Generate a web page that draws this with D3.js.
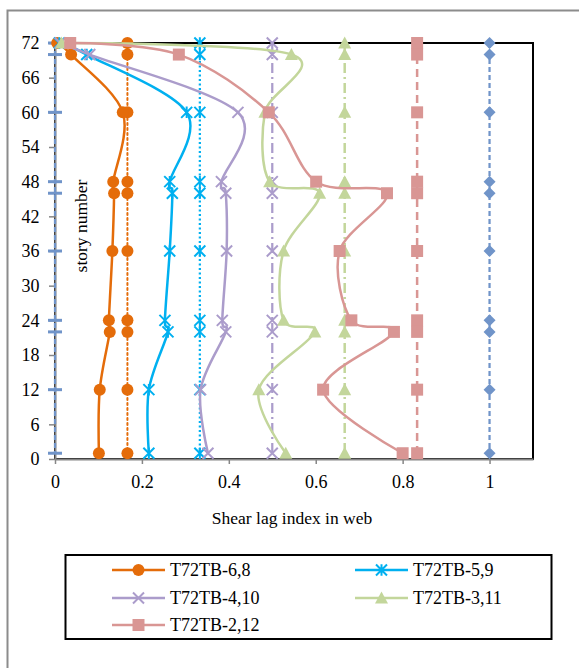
<!DOCTYPE html>
<html>
<head>
<meta charset="utf-8">
<script src="https://cdn.jsdelivr.net/npm/d3@7"></script>
<style>
  html, body { margin: 0; padding: 0; background: #fff; }
  svg { display: block; }
  text { font-family: "Liberation Serif", "Times New Roman", serif; fill: #000; }
</style>
</head>
<body>
<div id="chart"></div>
<script>
// Story levels at which the shear lag index was evaluated
const stories = [72, 70, 60, 48, 46, 36, 24, 22, 12, 1];

// Shear lag index in the web, one array per tube case (same order as stories)
const seriesNames = ["T72TB-6,8", "T72TB-5,9", "T72TB-4,10", "T72TB-3,11", "T72TB-2,12"];
const web68  = [0.005, 0.037, 0.156, 0.134, 0.136, 0.132, 0.124, 0.126, 0.103, 0.101];
const web59  = [0.010, 0.073, 0.303, 0.264, 0.270, 0.264, 0.253, 0.260, 0.216, 0.216];
const web410 = [0.012, 0.080, 0.421, 0.383, 0.393, 0.395, 0.385, 0.393, 0.335, 0.352];
const web311 = [0.015, 0.544, 0.483, 0.494, 0.609, 0.526, 0.526, 0.598, 0.469, 0.531];
const web212 = [0.035, 0.285, 0.492, 0.601, 0.764, 0.655, 0.682, 0.780, 0.617, 0.800];

// Constant reference levels (k/6) drawn as vertical lines over all stories
const referenceLevels = [0, 1/6, 1/3, 1/2, 2/3, 5/6, 1];

// Axis ticks
const xTicks = [0, 0.2, 0.4, 0.6, 0.8, 1];
const xTickLabels = ["0", "0.2", "0.4", "0.6", "0.8", "1"];
const yTicks = [0, 6, 12, 18, 24, 30, 36, 42, 48, 54, 60, 66, 72];

const W = 579, H = 668;
const svg = d3.select("#chart").append("svg").attr("width", W).attr("height", H);

// outer chart frame
svg.append("rect").attr("x", 7.5).attr("y", 10.5).attr("width", 640).attr("height", 720)
  .attr("fill", "#fff").attr("stroke", "#8c8c8c").attr("stroke-width", 2);

const x = d3.scaleLinear().domain([0, 1.1]).range([55, 533]);
const y = d3.scaleLinear().domain([0, 72]).range([459, 43]);

// plot area border
svg.append("rect").attr("x", x(0)).attr("y", y(72)).attr("width", x(1.1) - x(0)).attr("height", y(0) - y(72))
  .attr("fill", "none").attr("stroke", "#000").attr("stroke-width", 2);

const axisGray = "#868686";

// x axis
const gx = svg.append("g").attr("transform", `translate(0,${y(0)})`)
  .call(d3.axisBottom(x).tickValues(xTicks).tickFormat((d, i) => xTickLabels[i]).tickSize(5).tickSizeOuter(0));
gx.attr("font-family", null);
gx.select(".domain").attr("stroke", axisGray).attr("stroke-width", 2);
gx.selectAll(".tick line").attr("stroke", axisGray).attr("stroke-width", 1.5);
gx.selectAll(".tick text").attr("font-size", 18).attr("fill", "#000")
  .attr("y", 28.5).attr("dy", null);

// y axis
const gy = svg.append("g").attr("transform", `translate(${x(0)},0)`)
  .call(d3.axisLeft(y).tickValues(yTicks).tickSize(6).tickSizeOuter(0));
gy.attr("font-family", null);
gy.select(".domain").attr("stroke", axisGray).attr("stroke-width", 2);
gy.selectAll(".tick line").attr("stroke", axisGray).attr("stroke-width", 1.5);
gy.selectAll(".tick text").attr("font-size", 18).attr("fill", "#000")
  .attr("x", -15.5).attr("dy", "0.33em");

// axis titles
svg.append("text").attr("x", 292).attr("y", 524).attr("text-anchor", "middle")
  .attr("font-size", 17.5).text("Shear lag index in web");
svg.append("text").attr("transform", "translate(87,226) rotate(-90)").attr("text-anchor", "middle")
  .attr("font-size", 17.5).text("story number");

// marker shapes
function markerPath(type, s) {
  const h = s / 2;
  switch (type) {
    case "circle": return d3.symbol(d3.symbolCircle, Math.PI * h * h)();
    case "square": return `M${-h},${-h}H${h}V${h}H${-h}Z`;
    case "diamond": return `M0,${-h}L${h},0L0,${h}L${-h},0Z`;
    case "triangle": return `M0,${-h}L${h},${h * 0.85}L${-h},${h * 0.85}Z`;
    case "x": return `M${-h},${-h}L${h},${h}M${-h},${h}L${h},${-h}`;
    case "star": return `M${-h},${-h}L${h},${h}M${-h},${h}L${h},${-h}M0,${-h * 1.05}V${h * 1.05}`;
    case "dash": return `M${-7},0H7`;
  }
}
const filled = { circle: true, square: true, diamond: true, triangle: true, x: false, star: false, dash: false };

function drawMarkers(g, pts, type, color, size) {
  g.selectAll(null).data(pts).enter().append("path")
    .attr("transform", d => `translate(${x(d.v)},${y(d.s)})`)
    .attr("d", markerPath(type, size))
    .attr("fill", filled[type] ? color : "none")
    .attr("stroke", color)
    .attr("stroke-width", filled[type] ? 0 : (type === "dash" ? 3 : 2));
}

// reference lines at k/6
const refStyles = [
  { color: "#7094c9", dash: "5,3", marker: "dash", size: 14, width: 2.25 },
  { color: "#e46c0a", dash: "2,3", marker: "circle", size: 12, width: 2 },
  { color: "#00b0f0", dash: "2,2.5", marker: "star", size: 11, width: 2.25 },
  { color: "#ab9ccb", dash: "10,4,2,4", marker: "x", size: 11, width: 2.25 },
  { color: "#c3d69b", dash: "10,4,2,4", marker: "triangle", size: 13, width: 2.5 },
  { color: "#d99694", dash: "8,5", marker: "square", size: 12, width: 2.5 },
  { color: "#7094c9", dash: "5,3", marker: "diamond", size: 12, width: 2.25 }
];

const lineStraight = d3.line().x(d => x(d.v)).y(d => y(d.s));
const lineSmooth = d3.line().x(d => x(d.v)).y(d => y(d.s)).curve(d3.curveCatmullRom.alpha(0));

const gRef = svg.append("g");
referenceLevels.forEach((lvl, i) => {
  const st = refStyles[i];
  const pts = stories.map(s => ({ s, v: lvl }));
  gRef.append("path").datum(pts).attr("d", lineStraight)
    .attr("fill", "none").attr("stroke", st.color).attr("stroke-width", st.width)
    .attr("stroke-dasharray", st.dash).attr("stroke-linecap", i === 1 ? "round" : "butt");
  drawMarkers(gRef, pts, st.marker, st.color, st.size);
});

// smoothed case curves
const caseValues = [web68, web59, web410, web311, web212];
const caseStyles = [
  { color: "#e46c0a", marker: "circle", size: 12 },
  { color: "#00b0f0", marker: "star", size: 11 },
  { color: "#ab9ccb", marker: "x", size: 11 },
  { color: "#c3d69b", marker: "triangle", size: 13 },
  { color: "#d99694", marker: "square", size: 12 }
];

const gCase = svg.append("g");
caseValues.forEach((vals, i) => {
  const st = caseStyles[i];
  const pts = stories.map((s, j) => ({ s, v: vals[j] }));
  gCase.append("path").datum(pts).attr("d", lineSmooth)
    .attr("fill", "none").attr("stroke", st.color).attr("stroke-width", 2.5);
  drawMarkers(gCase, pts, st.marker, st.color, st.size);
});

// legend
const lg = svg.append("g");
lg.append("rect").attr("x", 65.5).attr("y", 555).attr("width", 486).attr("height", 84)
  .attr("fill", "#fff").attr("stroke", "#000").attr("stroke-width", 2);
const colX = [112, 355];
const rowY = [570, 598, 625];
seriesNames.forEach((name, i) => {
  const st = caseStyles[i];
  const cx = colX[i % 2], cy = rowY[Math.floor(i / 2)];
  lg.append("line").attr("x1", cx).attr("x2", cx + 53).attr("y1", cy).attr("y2", cy)
    .attr("stroke", st.color).attr("stroke-width", 2.5);
  lg.append("path").attr("transform", `translate(${cx + 26.5},${cy})`)
    .attr("d", markerPath(st.marker, st.size))
    .attr("fill", filled[st.marker] ? st.color : "none")
    .attr("stroke", st.color).attr("stroke-width", filled[st.marker] ? 0 : 2);
  lg.append("text").attr("x", cx + 58).attr("y", cy + 6).attr("font-size", 18).text(name);
});
</script>
</body>
</html>
